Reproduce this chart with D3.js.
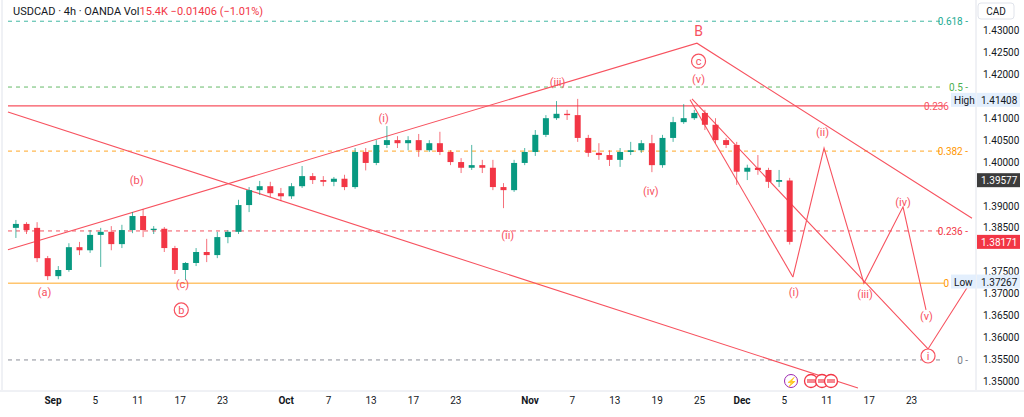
<!DOCTYPE html>
<html><head><meta charset="utf-8">
<script src="https://cdn.jsdelivr.net/npm/d3@7/dist/d3.min.js"></script>
<style>body{margin:0;background:#fff;font-family:Roboto,"Noto Sans",sans-serif}svg{display:block}</style>
</head><body><svg id="c" width="1024" height="417"></svg>
<script>
// Daily candles, trading-day index (0 = Sep 1)
const dayIdx = d3.range(-4, 70);
const opens = [1.3849,1.3858,1.3849,1.3780,1.3739,1.3753,1.3805,1.3798,1.3833,1.3840,1.3812,1.3844,1.3876,1.3844,1.3847,1.3803,1.3753,1.3769,1.3794,1.3787,1.3828,1.3840,1.3901,1.3935,1.3944,1.3928,1.3921,1.3944,1.3967,1.3958,1.3954,1.3961,1.3942,1.4022,1.3997,1.4038,1.4049,1.4042,1.4049,1.4026,1.4042,1.4022,1.3999,1.3986,1.3992,1.3986,1.3942,1.3935,1.3997,1.4022,1.4061,1.4099,1.4109,1.4106,1.4054,1.4020,1.4015,1.4004,1.4022,1.4026,1.4042,1.3992,1.4054,1.4090,1.4099,1.4111,1.4084,1.4049,1.4038,1.3977,1.3986,1.3981,1.3954,1.3957];
const highs = [1.3867,1.3862,1.3862,1.3785,1.3762,1.3814,1.3817,1.3844,1.3849,1.3853,1.3856,1.3885,1.3892,1.3853,1.3851,1.3808,1.3771,1.3803,1.3824,1.3840,1.3844,1.3913,1.3942,1.3956,1.3954,1.3940,1.3951,1.3990,1.3974,1.3967,1.3965,1.3970,1.4031,1.4031,1.4049,1.4081,1.4058,1.4058,1.4063,1.4049,1.4068,1.4026,1.4008,1.4038,1.4004,1.4004,1.3951,1.4004,1.4031,1.4072,1.4106,1.4138,1.4118,1.4143,1.4061,1.4042,1.4026,1.4031,1.4045,1.4049,1.4061,1.4061,1.4102,1.4131,1.4118,1.4118,1.4099,1.4054,1.4045,1.3993,1.4015,1.3986,1.3981,1.3963];
const lows = [1.3826,1.3835,1.3771,1.3730,1.3732,1.3749,1.3787,1.3792,1.3760,1.3798,1.3803,1.3837,1.3828,1.3835,1.3794,1.3744,1.3730,1.3762,1.3771,1.3780,1.3814,1.3835,1.3885,1.3924,1.3919,1.3910,1.3915,1.3940,1.3949,1.3944,1.3944,1.3935,1.3938,1.3980,1.3992,1.4031,1.4031,1.4026,1.4011,1.4022,1.4015,1.3992,1.3974,1.3981,1.3974,1.3935,1.3894,1.3931,1.3992,1.4013,1.4056,1.4095,1.4095,1.4045,1.4011,1.4004,1.3990,1.3988,1.4015,1.4020,1.3976,1.3986,1.4045,1.4086,1.4095,1.4072,1.4042,1.4031,1.3947,1.3958,1.3970,1.3940,1.3942,1.3811];
const closes = [1.3858,1.3844,1.3780,1.3739,1.3753,1.3805,1.3798,1.3833,1.3840,1.3812,1.3844,1.3876,1.3844,1.3847,1.3803,1.3753,1.3769,1.3794,1.3787,1.3828,1.3840,1.3901,1.3935,1.3944,1.3928,1.3921,1.3944,1.3967,1.3958,1.3954,1.3961,1.3942,1.4022,1.3997,1.4038,1.4049,1.4042,1.4049,1.4026,1.4042,1.4022,1.3999,1.3986,1.3992,1.3986,1.3942,1.3935,1.3997,1.4022,1.4061,1.4099,1.4109,1.4106,1.4054,1.4020,1.4015,1.4004,1.4022,1.4026,1.4042,1.3992,1.4054,1.4090,1.4099,1.4111,1.4084,1.4049,1.4038,1.3977,1.3986,1.3981,1.3954,1.3958,1.38171];

const tickLabels = ["Sep","5","11","17","23","Oct","7","13","17","23","Nov","7","13","19","25","Dec","5","11","17","23"];
const tickIdx = [0,4,8,12,16,22,26,30,34,38,45,49,53,57,61,65,69,73,77,81];
const priceTicks = [1.35,1.355,1.36,1.365,1.37,1.375,1.38,1.385,1.39,1.395,1.40,1.405,1.41,1.415,1.42,1.425,1.43];

const fibLevels = [1.4320,1.4170,1.4024,1.3842,1.3723,1.3548];
const fibNames = ["0.618","0.5","0.382","0.236","0","0"];
const fibColors = ["#22ab94","#4caf50","#ff9800","#f23645","#ff9800","#787b86"];
const fibDash = ["4,4","4,4","4,4","4,4","","4,4"];
const redHLine = 1.4127;

const trendA = [[-4.25,1.3799],[60.75,1.4270],[86.7,1.3871]];
const trendB = [[-4.25,1.4113],[75.94,1.3484]];
const chan1 = [[60.1,1.4141],[69.8,1.3737]];
const chan2 = [[60.28,1.4143],[82.55,1.3573],[86.32,1.3716]];
const wave = [[69.8,1.3737],[72.74,1.4031],[76.5,1.3723],[80.19,1.3897],[82.36,1.3662]];

const labels = [
 ["B",60.9,1.4295,14,false],["c",60.9,1.4229,11,true],["(v)",60.9,1.4189,11,false],
 ["(iii)",47.6,1.4182,11,false],["(i)",31.2,1.4099,11,false],["(ii)",42.9,1.3833,11,false],["(iv)",56.4,1.3933,11,false],
 ["(b)",7.9,1.3957,11,false],["(a)",-0.8,1.3703,11,false],["(c)",12.2,1.3720,11,false],["b",12.1,1.3662,11,true],
 ["(i)",69.9,1.3703,11,false],["(ii)",72.6,1.4067,11,false],["(iii)",76.6,1.3698,11,false],["(iv)",80.2,1.3908,11,false],["(v)",82.4,1.3648,11,false],["i",82.55,1.3557,11,true]
];

const svg = d3.select("#c");
const x = d3.scaleLinear().domain([0,80]).range([53,53+80*10.6]);
const y = d3.scaleLinear().domain([1.35,1.43]).range([381,30]);
const UP="#089981", DN="#f23645", ANN="#f7525f";

svg.append("defs").append("clipPath").attr("id","pc").append("rect").attr("x",0).attr("y",0).attr("width",975).attr("height",390);
const plot = svg.append("g").attr("clip-path","url(#pc)");

const tagged = [false,false,false,false,true,false];
fibLevels.forEach((v,i)=>{
  plot.append("line").attr("x1",8).attr("x2",tagged[i]?944:940).attr("y1",y(v)).attr("y2",y(v))
   .attr("stroke",fibColors[i]).attr("stroke-dasharray",fibDash[i]).attr("stroke-width",1).attr("opacity",0.85);
  plot.append("text").attr("x",tagged[i]?949:968).attr("y",y(v)+4).attr("text-anchor","end").attr("font-size",10)
   .attr("fill",fibColors[i]).text(tagged[i]?fibNames[i]:fibNames[i]+" -");
});
plot.append("line").attr("x1",8).attr("x2",944).attr("y1",y(redHLine)).attr("y2",y(redHLine)).attr("stroke",ANN).attr("stroke-width",1.2);
plot.append("text").attr("x",949).attr("y",y(redHLine)+4).attr("text-anchor","end").attr("font-size",10).attr("fill",ANN).text("0.236");

const line = d3.line().x(d=>x(d[0])).y(d=>y(d[1]));
[trendA,trendB,chan1,chan2,wave].forEach(p=>plot.append("path").attr("d",line(p)).attr("fill","none").attr("stroke",ANN).attr("stroke-width",1.1));

const cg = plot.append("g");
dayIdx.forEach((d,i)=>{
  const up = closes[i]>=opens[i], c = up?UP:DN, cx = x(d+0.5);
  cg.append("line").attr("x1",cx).attr("x2",cx).attr("y1",y(highs[i])).attr("y2",y(lows[i])).attr("stroke",c).attr("opacity",0.7);
  const t=y(Math.max(opens[i],closes[i])), b=y(Math.min(opens[i],closes[i]));
  cg.append("rect").attr("x",cx-3).attr("width",6).attr("y",t).attr("height",Math.max(1,b-t)).attr("fill",c);
});

labels.forEach(([t,i,v,fs,circ])=>{
  if(circ) plot.append("circle").attr("cx",x(i)).attr("cy",y(v)).attr("r",7).attr("fill","#fff").attr("stroke",ANN).attr("stroke-width",1.2);
  plot.append("text").attr("x",x(i)).attr("y",y(v)+4).attr("text-anchor","middle").attr("font-size",fs).attr("fill",ANN).text(t);
});

const ev = svg.append("g");
ev.append("circle").attr("cx",791).attr("cy",381).attr("r",6.5).attr("fill","#fff").attr("stroke","#9c27b0");
ev.append("text").attr("x",791).attr("y",385).attr("text-anchor","middle").attr("font-size",9).attr("fill","#9c27b0").text("⚡");
[811,822,831].forEach(cx=>{ev.append("circle").attr("cx",cx).attr("cy",381).attr("r",6.5).attr("fill","#fff").attr("stroke",DN).attr("stroke-width",1.3);
 ev.append("rect").attr("x",cx-4).attr("y",379).attr("width",8).attr("height",4).attr("fill",DN).attr("opacity",0.6);});

const tagVals = [1.41408,1.37267,1.39577,1.38171];
svg.append("line").attr("x1",976).attr("x2",976).attr("y1",0).attr("y2",390).attr("stroke","#e0e3eb");
priceTicks.forEach(v=>{
  if (tagVals.some(t=>Math.abs(y(t)-y(v))<10)) return;
  svg.append("text").attr("x",983).attr("y",y(v)+4).attr("font-size",10).attr("fill","#131722").text(v.toFixed(5));
});
function tag(v,txt,bg,fg){
  svg.append("rect").attr("x",977).attr("y",y(v)-7).attr("width",43).attr("height",14).attr("fill",bg);
  svg.append("text").attr("x",981).attr("y",y(v)+4).attr("font-size",10).attr("fill",fg).text(txt);
}
function hl(v,txt){
  svg.append("rect").attr("x",951).attr("y",y(v)-7).attr("width",25).attr("height",14).attr("fill","#e3effd");
  svg.append("text").attr("x",954).attr("y",y(v)+4).attr("font-size",10).attr("fill","#131722").text(txt);
  tag(v,v.toFixed(5),"#e3effd","#131722");
}
hl(1.41408,"High"); hl(1.37267,"Low");
tag(1.39577,"1.39577","#3c3c3c","#fff");
tag(1.38171,"1.38171",DN,"#fff");
svg.append("rect").attr("x",978).attr("y",3).attr("width",36).attr("height",16).attr("rx",3).attr("fill","#fff").attr("stroke","#e0e3eb");
svg.append("text").attr("x",996).attr("y",15).attr("text-anchor","middle").attr("font-size",10).attr("fill","#131722").text("CAD");

svg.append("line").attr("x1",0).attr("x2",1024).attr("y1",391).attr("y2",391).attr("stroke","#e0e3eb");
tickLabels.forEach((t,i)=>{
  svg.append("text").attr("x",x(tickIdx[i])).attr("y",404).attr("text-anchor","middle").attr("font-size",10)
   .attr("font-weight",isNaN(+t)?"bold":"normal").attr("fill","#131722").text(t);
});

const tt = svg.append("text").attr("x",13).attr("y",15).attr("font-size",11);
tt.append("tspan").attr("fill","#131722").text("USDCAD · 4h · OANDA  Vol");
tt.append("tspan").attr("fill",DN).text("15.4K  −0.01406 (−1.01%)");
svg.append("line").attr("x1",2).attr("x2",2).attr("y1",0).attr("y2",390).attr("stroke","#e0e3eb");
</script></body></html>
